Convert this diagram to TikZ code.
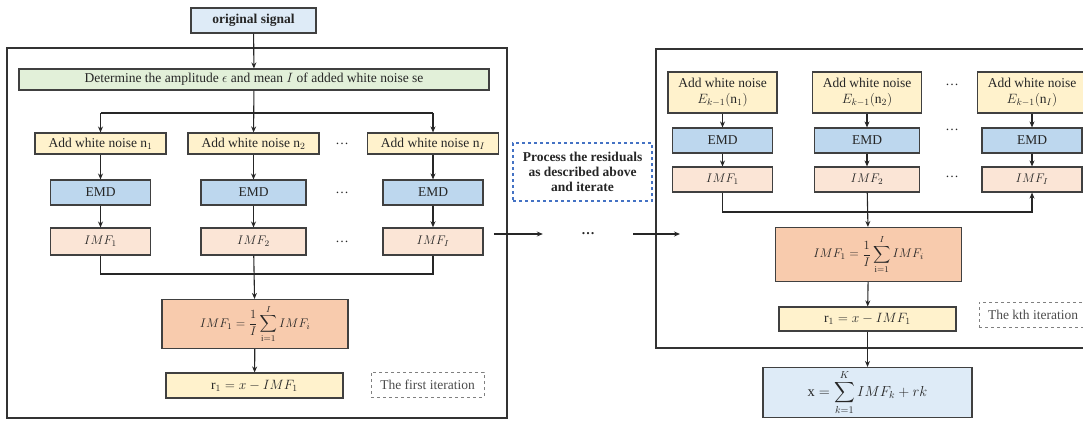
\RequirePackage{fix-cm}
\documentclass[tikz,border=0pt]{standalone}
\usepackage{amsmath}
\usepackage{fontspec}
\setmainfont{Liberation Serif}
\usetikzlibrary{arrows.meta, positioning}
\definecolor{sigblue}{HTML}{DEEBF7}
\definecolor{detgreen}{HTML}{E2F0D9}
\definecolor{noiseyellow}{HTML}{FFF2CC}
\definecolor{emdblue}{HTML}{BDD7EE}
\definecolor{imfpeach}{HTML}{FBE5D6}
\definecolor{avgorange}{HTML}{F8CBAD}
\definecolor{dashblue}{HTML}{4472C4}

\begin{document}
\begin{tikzpicture}[x=1pt,y=-1pt,on grid,>={Stealth[length=6pt,width=5pt]},
        font=\fontsize{13.5}{15.5}\selectfont, text=black!85,
        box/.style={draw=black!75,line width=1.1pt,inner sep=1pt,minimum height=25pt,align=center},
        signal/.style={box,fill=sigblue,minimum width=125pt},
        determine/.style={box,fill=detgreen,minimum width=470pt,minimum height=21pt},
        noise/.style={box,fill=noiseyellow,minimum width=131pt,minimum height=21pt},
        rnoise/.style={box,fill=noiseyellow,minimum width=109pt,minimum height=41pt},
        emd/.style={box,fill=emdblue,minimum width=100pt},
        imf/.style={box,fill=imfpeach,minimum width=100pt,minimum height=27pt,font=\fontsize{12.5}{14}\selectfont},
        average/.style={box,fill=avgorange,minimum width=186pt,minimum height=49pt,font=\fontsize{12.5}{14}\selectfont},
        residual/.style={box,fill=noiseyellow,minimum width=177pt},
        result/.style={box,fill=sigblue,minimum width=209pt,minimum height=50pt,font=\fontsize{14.5}{16}\selectfont},
        note/.style={draw=black!50,dashed,line width=1pt,minimum height=25pt,text=black!70},
        frame/.style={draw=black!80,line width=1.1pt},
        link/.style={draw=black!85,line width=1.1pt}]

        \useasboundingbox (0,0) rectangle (1083,420);

        % frames of the two iterations
        \draw[frame] (7,48) rectangle (507,418);
        \draw[frame] (656,49) rectangle (1095,348);

        % first iteration
        \node[signal] (orig) at (253.5,20.5) {\textbf{original signal}};
        \node[determine] (det) at (254,79.5) {Determine the amplitude $\epsilon$ and mean $I$ of added white noise se};

        \node[noise] (n1) at (100.5,143.5) {Add white noise n$_1$};
        \node[noise] (n2) at (253.5,143.5) {Add white noise n$_2$};
        \node[noise] (nI) at (433,143.5) {Add white noise n$_I$};

        \node[emd] (emd1) [below=49pt of n1] {EMD};
        \node[emd,minimum width=105pt] (emd2) [below=49pt of n2] {EMD};
        \node[emd] (emd3) [below=49pt of nI] {EMD};

        \node[imf] (imf1) [below=49pt of emd1] {$IMF_1$};
        \node[imf,minimum width=105pt] (imf2) [below=49pt of emd2] {$IMF_2$};
        \node[imf,line width=1.5pt] (imf3) [below=49pt of emd3] {$IMF_I$};

        \foreach \y in {143.5,192.5,241.5}
            \node (dl\y) at (342,\y) {\dots};

        \node[average] (avg) at (255,324) {$IMF_1=\dfrac{1}{I}\displaystyle\sum_{\mathrm{i}=1}^{I} IMF_i$};
        \node[residual] (r1) at (254.5,385.5) {$\mathrm{r}_1=x-IMF_1$};
        \node[note,minimum width=113pt] (first) at (427.5,384.5) {The first iteration};

        \coordinate (split) at (253.5,113);
        \coordinate (join) at (253.5,274);

        \draw[link,->] (orig) -- (det);
        \draw[link,->] (det) -- (n2);
        \draw[link] (n1 |- split) -- (nI |- split);
        \draw[link,->] (n1 |- split) -- (n1);
        \draw[link,->] (nI |- split) -- (nI);
        \foreach \c in {1,2}
            \draw[link,->] (n\c) -- (emd\c);
        \draw[link,->] (nI) -- (emd3);
        \foreach \c in {1,2,3}
            \draw[link,->] (emd\c) -- (imf\c);
        \draw[link] (imf1) |- (join) -| (imf3);
        \draw[link,->] (imf2) -- (avg);
        \draw[link,->] (avg) -- (r1);

        % between the iterations
        \node[draw=dashblue,dashed,line width=1.2pt,minimum width=139pt,minimum height=58pt,
              align=center,font=\fontsize{13.5}{15}\selectfont\bfseries] (process) at (582.5,172)
              {Process the residuals\\as described above\\and iterate};
        \node[minimum width=90pt] (dots) at (588,234) {\textbf{\dots}};
        \coordinate (enter) at (680,234);
        \draw[link,->] ([xshift=10pt]imf3.east |- dots) -- (dots);
        \draw[link,->] (dots) -- (enter);

        % kth iteration
        \node[rnoise] (rn1) at (722.5,92.5) {Add white noise\\$E_{k-1}(\mathrm{n}_1)$};
        \node[rnoise] (rn2) at (867,92.5) {Add white noise\\$E_{k-1}(\mathrm{n}_2)$};
        \node[rnoise] (rnI) at (1032,92.5) {Add white noise\\$E_{k-1}(\mathrm{n}_I)$};

        \node[emd] (remd1) [below=48pt of rn1] {EMD};
        \node[emd,minimum width=105pt] (remd2) [below=48pt of rn2] {EMD};
        \node[emd] (remd3) [below=48pt of rnI] {EMD};

        \node[imf,minimum height=25pt] (rimf1) [below=39pt of remd1] {$IMF_1$};
        \node[imf,minimum height=25pt,minimum width=105pt] (rimf2) [below=39pt of remd2] {$IMF_2$};
        \node[imf,minimum height=25pt] (rimf3) [below=39pt of remd3] {$IMF_I$};

        \foreach \y in {85,130,177}
            \node (dr\y) at (952,\y) {\dots};

        \node[average,minimum height=54pt] (ravg) at (868.5,254.5) {$IMF_1=\dfrac{1}{I}\displaystyle\sum_{\mathrm{i}=1}^{I} IMF_i$};
        \node[residual,minimum height=24pt] (rr1) at (867.5,319) {$\mathrm{r}_1=x-IMF_1$};
        \node[note,minimum width=108pt] (kth) at (1033,314.5) {The kth iteration};
        \node[result] (final) at (867.5,392.5) {$\mathrm{x}=\displaystyle\sum_{k=1}^{K} IMF_k+rk$};

        \coordinate (rjoin) at (868.5,212);

        \foreach \c in {1,2}
            \draw[link,->] (rn\c) -- (remd\c);
        \draw[link,->] (rnI) -- (remd3);
        \foreach \c in {1,2,3}
            \draw[link,->] (remd\c) -- (rimf\c);
        \draw[link,->] (rimf1) |- (rjoin) -| (rimf3);
        \draw[link,->] (rimf2) -- (ravg);
        \draw[link,->] (ravg) -- (rr1);
        \draw[link,->] (rr1) -- (final);
    \end{tikzpicture}
\end{document}
